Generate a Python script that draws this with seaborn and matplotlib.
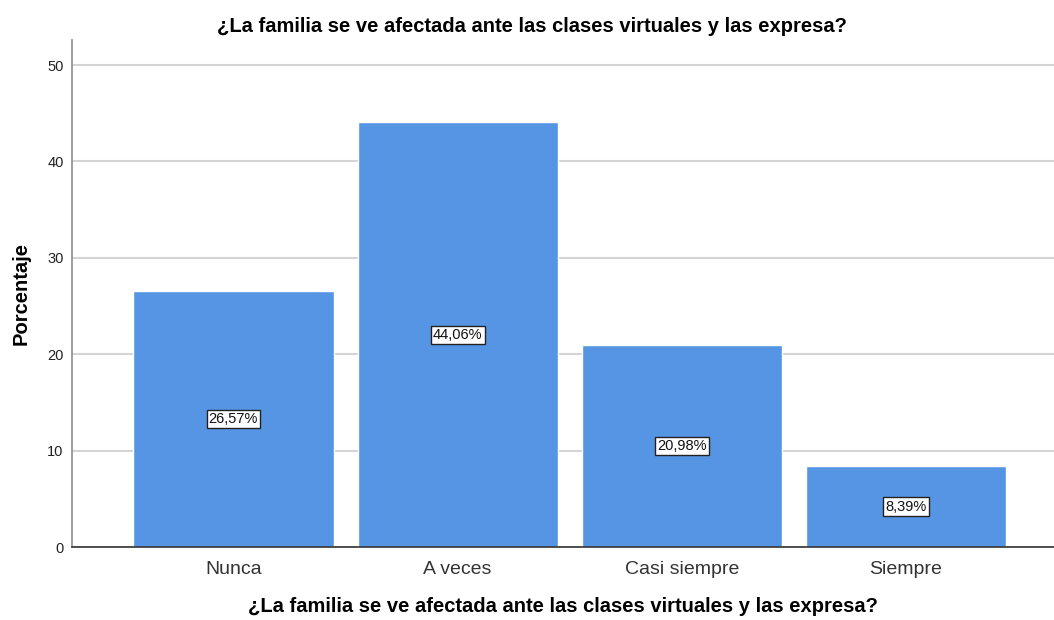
import seaborn as sns
import matplotlib.pyplot as plt
import pandas as pd

categorias = ['Nunca', 'A veces', 'Casi siempre', 'Siempre']
porcentajes = [26.57, 44.06, 20.98, 8.39]
etiquetas = ['26,57%', '44,06%', '20,98%', '8,39%']
pregunta = '¿La familia se ve afectada ante las clases virtuales y las expresa?'

df = pd.DataFrame({'categoria': categorias, 'porcentaje': porcentajes})

sns.set_style('white')
plt.rcParams['font.family'] = ['Liberation Sans', 'DejaVu Sans']

fig = plt.figure(figsize=(10.54, 6.2), dpi=100)
ax = fig.add_axes([0.0683, 0.1177, 0.9317, 0.8177])

sns.barplot(data=df, x='categoria', y='porcentaje', color='#5595e3', saturation=1,
            width=0.893, ax=ax, zorder=2)

ax.set_ylim(0, 52.6)
ax.set_xlim(-0.72, 3.66)
ax.set_yticks([0, 10, 20, 30, 40, 50])
ax.yaxis.grid(True, color='#d4d4d4', linewidth=1.5, zorder=0)
ax.set_axisbelow(True)

# etiquetas de porcentaje en el centro de cada barra
for i, (v, t) in enumerate(zip(porcentajes, etiquetas)):
    ax.text(i, v / 2, t, ha='center', va='center', fontsize=10.5, color='#111111', zorder=3,
            bbox=dict(boxstyle='square,pad=0.15', facecolor='white', edgecolor='#222222', linewidth=1))

for s in ['top', 'right']:
    ax.spines[s].set_visible(False)
ax.spines['left'].set_color('#8c8c8c')
ax.spines['left'].set_linewidth(1.2)
ax.spines['bottom'].set_color('#333333')
ax.spines['bottom'].set_linewidth(1.2)

ax.tick_params(axis='y', labelsize=10.5, length=0, pad=6, colors='#222222')
ax.tick_params(axis='x', labelsize=14, length=0, pad=10, colors='#333333')

fig.text(0.505, 0.958, pregunta, ha='center', va='center', fontsize=14.5,
         fontweight='bold', color='black')
ax.set_xlabel(pregunta, fontsize=14.5, fontweight='bold', labelpad=14, color='black')
ax.set_ylabel('Porcentaje', fontsize=14.5, fontweight='bold', labelpad=12, color='black')

plt.savefig('out.png', dpi=100)
